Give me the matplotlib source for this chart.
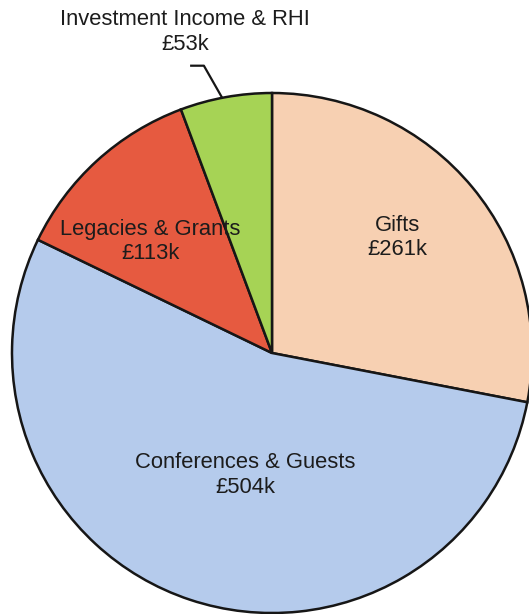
import numpy as np
import matplotlib
matplotlib.use("Agg")
import matplotlib.pyplot as plt

# income split, £k
categories = ["Gifts", "Conferences & Guests", "Legacies & Grants", "Investment Income & RHI"]
values = [261, 504, 113, 53]
value_labels = ["£261k", "£504k", "£113k", "£53k"]
colors = ["#F7D0B2", "#B5CBEC", "#E65A40", "#A6D355"]

plt.rcParams['font.family'] = ['Liberation Sans', 'DejaVu Sans']

fig = plt.figure(figsize=(5.29, 6.14), dpi=100)
# pie centred at about (272, 353) px with radius ~260 px
ax = fig.add_axes([12 / 529, 1 / 614, 520 / 529, 520 / 614])

wedges, _ = ax.pie(values, colors=colors, startangle=90, counterclock=False,
                   wedgeprops=dict(edgecolor="#161616", linewidth=1.8))
for w in wedges:
    w.set_clip_on(False)

ax.set_xlim(-1, 1)
ax.set_ylim(-1, 1)
ax.set_aspect("equal")
ax.axis("off")

# label radius and angle nudge for the three inside labels
label_r = [0.655, 0.48, 0.635]
label_shift = [3, 6, 5]
for i in range(3):
    w = wedges[i]
    mid = np.deg2rad((w.theta1 + w.theta2) / 2 + label_shift[i])
    x, y = label_r[i] * np.cos(mid), label_r[i] * np.sin(mid)
    ax.text(x, y, categories[i] + "\n" + value_labels[i], ha="center", va="center",
            fontsize=15.8, color="#1c1c1c", linespacing=1.2)

# outside label with leader line for the small slice
w = wedges[3]
mid = np.deg2rad((w.theta1 + w.theta2) / 2 + 0.8)
ax.plot([-0.315, -0.262, np.cos(mid)], [1.105, 1.105, np.sin(mid)],
        color="#161616", lw=1.6, clip_on=False, solid_capstyle="butt")
ax.text(-0.335, 1.235, categories[3] + "\n" + value_labels[3], ha="center", va="center",
        fontsize=15.8, color="#1c1c1c", linespacing=1.2, clip_on=False)

fig.savefig("out.png", dpi=100, facecolor="white")
